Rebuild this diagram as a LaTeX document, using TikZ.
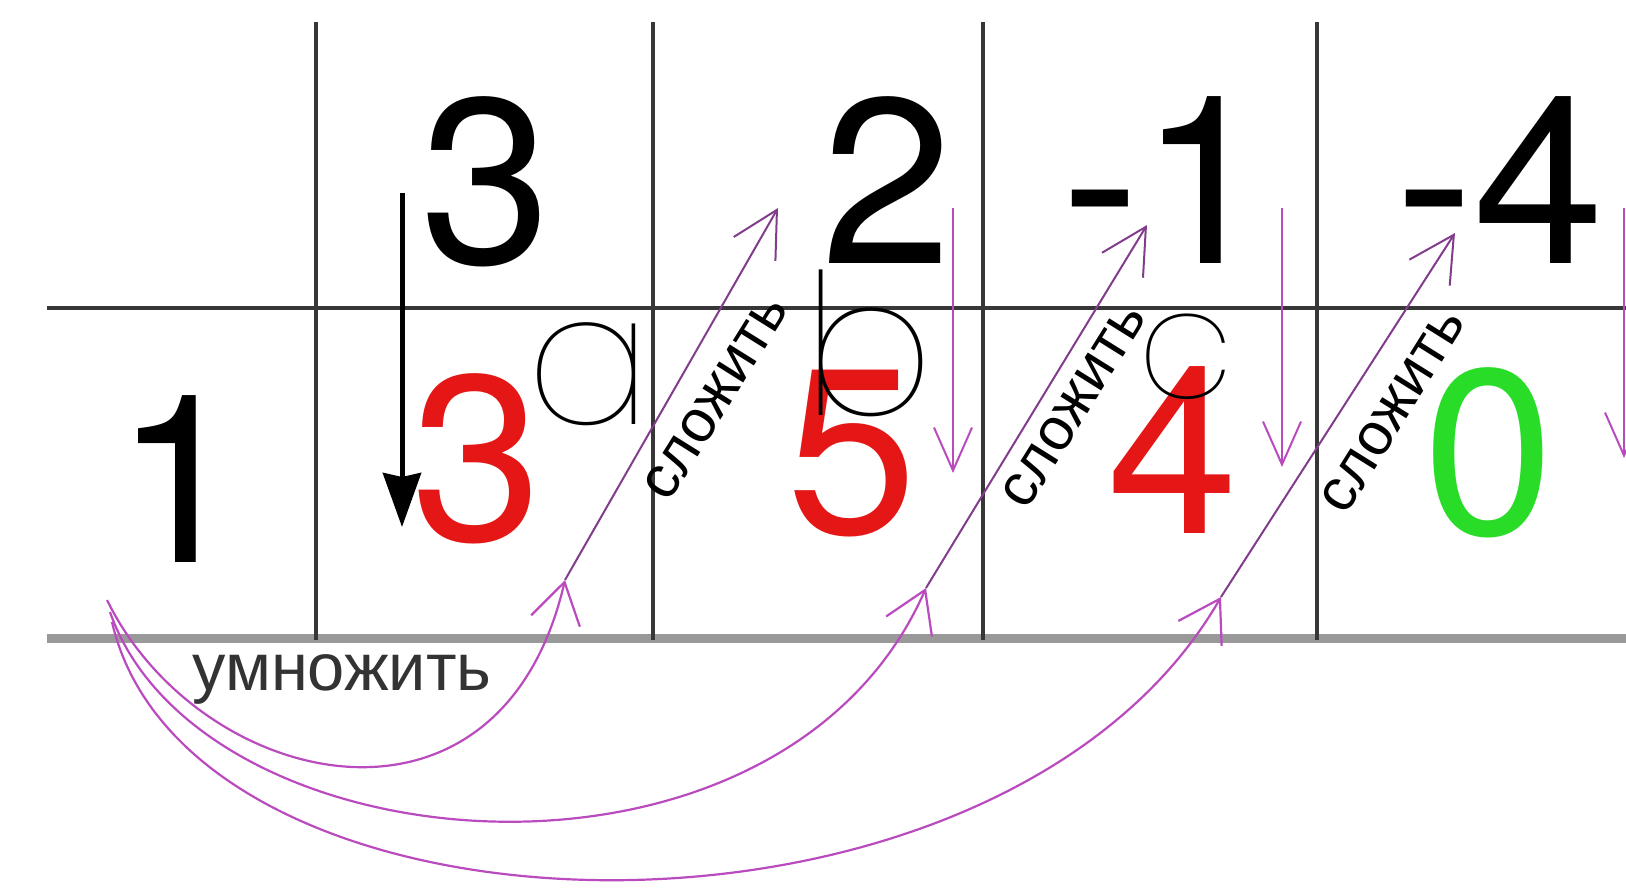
\documentclass[tikz,border=0pt]{standalone}
\usepackage{fontspec}
\setmainfont{Liberation Sans}
\newfontfamily\digitfont{TeX Gyre Heros}
\IfFontExistsTF{Poppins-Thin.ttf}{\newfontfamily\handfont{Poppins-Thin.ttf}}{%
  \IfFontExistsTF{Poppins Thin}{\newfontfamily\handfont{Poppins Thin}}{%
    \IfFontExistsTF{FiraSans-Thin.otf}{\newfontfamily\handfont{FiraSans-Thin.otf}}{%
      \newfontfamily\handfont{LiberationSerif-Italic.ttf}}}}
\usetikzlibrary{arrows.meta}
\definecolor{sumred}{RGB}{228,22,22}
\definecolor{zerogreen}{RGB}{40,220,40}
\definecolor{arcviolet}{RGB}{185,75,190}
\definecolor{addviolet}{RGB}{130,60,140}
\definecolor{rulegray}{RGB}{55,55,55}

\begin{document}
\begin{tikzpicture}[x=0.1mm,y=-0.1mm,
  bignum/.style={anchor=base,inner sep=0pt,font=\digitfont\fontsize{67}{67}\selectfont},
  gridline/.style={draw=rulegray,line width=0.4mm},
  baserule/.style={draw=black!40,line width=0.9mm},
  bringdown/.style={-{Stealth[length=5.4mm,width=3.8mm,inset=0.4mm]},line width=0.5mm},
  downarr/.style={-{Straight Barb[length=4.3mm,width=3.8mm]},draw=arcviolet,line width=0.2mm},
  multarc/.style={-{Straight Barb[length=4mm,width=5mm]},draw=arcviolet,line width=0.22mm},
  addarr/.style={-{Straight Barb[length=4.5mm,width=4.8mm]},draw=addviolet,line width=0.2mm},
  addlabel/.style={rotate=58,inner sep=0pt,font=\fontsize{17}{17}\selectfont},
  multlabel/.style={anchor=base,inner sep=0pt,text=black!80,font=\fontsize{19}{19}\selectfont},
  hand/.style={inner sep=0pt,font=\handfont\fontsize{53}{53}\selectfont}
]
  \useasboundingbox (0,0) rectangle (1626,888);

  \draw[gridline] (47,308) -- (1626,308);
  \draw[baserule] (47,638) -- (1626,638);
  \foreach \x in {316,653,983,1317}
    \draw[gridline] (\x,22) -- (\x,640);

  \node[bignum] (top0) at (486,263) {3};
  \node[bignum] (top1) at (887,263) {2};
  \node[bignum] (top2) at (1166,263) {-1};
  \node[bignum] (top3) at (1500,263) {-4};

  \node[bignum] (root) at (180,562) {1};
  \node[bignum,text=sumred] (res0) at (477,540) {3};
  \node[bignum,text=sumred] (res1) at (852,533) {5};
  \node[bignum,text=sumred] (res2) at (1173,533) {4};
  \node[bignum,text=zerogreen] (res3) at (1489,534) {0};

  \coordinate (dropstart) at (402,193);
  \coordinate (dropend) at (402,527);
  \draw[bringdown] (dropstart) -- (dropend);

  \coordinate (down1s) at (953,208);
  \coordinate (down1e) at (953,473);
  \coordinate (down2s) at (1282,208);
  \coordinate (down2e) at (1282,467);
  \coordinate (down3s) at (1624,208);
  \coordinate (down3e) at (1624,458);
  \draw[downarr] (down1s) -- (down1e);
  \draw[downarr] (down2s) -- (down2e);
  \draw[downarr] (down3s) -- (down3e);

  \coordinate (mstart1) at (107,600);
  \coordinate (mstart2) at (110,612);
  \coordinate (mstart3) at (112,622);
  \coordinate (land1) at (565,580);
  \coordinate (land2) at (926,588);
  \coordinate (land3) at (1221,597);
  \coordinate (tip1) at (778,208);
  \coordinate (tip2) at (1147,225);
  \coordinate (tip3) at (1455,233);

  \draw[multarc] (mstart1) .. controls (200,790) and (500,860) .. (land1);
  \draw[multarc] (mstart2) .. controls (200,870) and (780,920) .. (land2);
  \draw[multarc] (mstart3) .. controls (190,960) and (1000,980) .. (land3);

  \draw[addarr] (land1) -- (tip1);
  \draw[addarr] (land2) -- (tip2);
  \draw[addarr] (land3) -- (tip3);

  \node[addlabel] (add1) at (716,398) {сложить};
  \node[addlabel] (add2) at (1074,406) {сложить};
  \node[addlabel] (add3) at (1393,411) {сложить};
  \node[multlabel] (mult) at (342,690) {умножить};

  \node[hand] (coefa) at (589,374) {a};
  \node[hand,font=\handfont\fontsize{56}{56}\selectfont] (coefb) at (869,343) {b};
  \node[hand,font=\handfont\fontsize{44}{44}\selectfont] (coefc) at (1186,357) {c};
\end{tikzpicture}
\end{document}
